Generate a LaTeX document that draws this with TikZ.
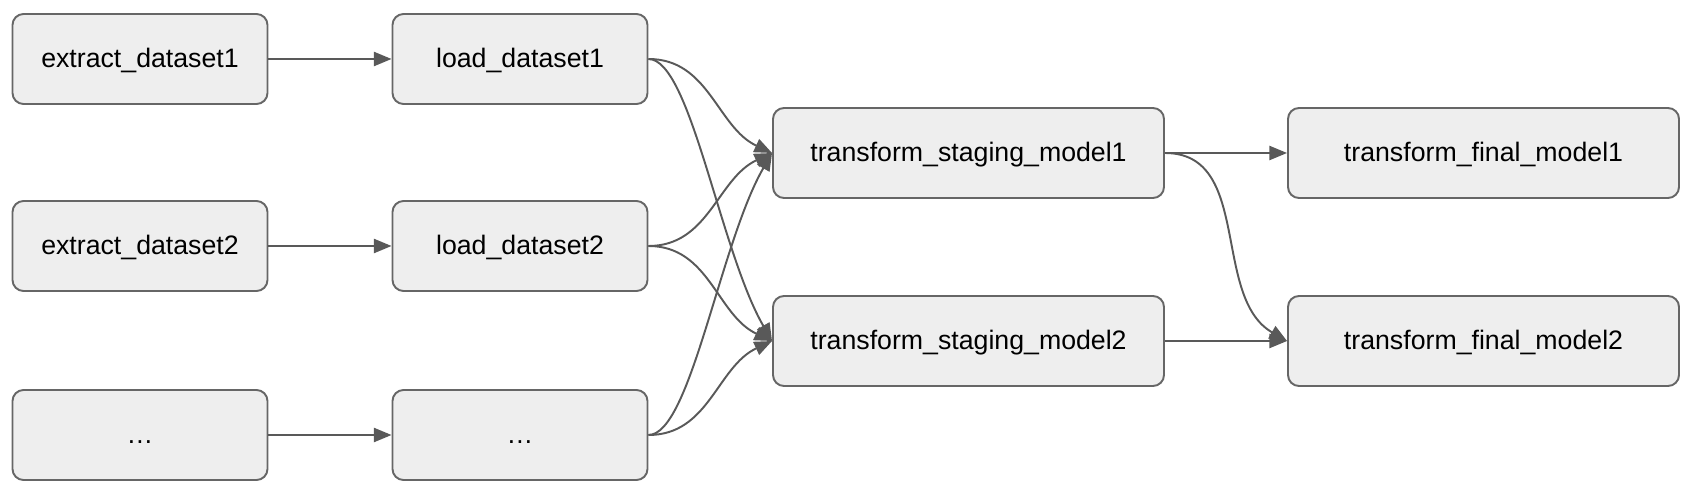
\documentclass[tikz,border=0pt]{standalone}
\usepackage{fontspec}
\setmainfont{Liberation Sans}
\usetikzlibrary{arrows.meta}
\definecolor{boxfill}{HTML}{EEEEEE}
\definecolor{boxline}{HTML}{666666}
\definecolor{edgeline}{HTML}{595959}
\tikzset{
    task/.style={draw=boxline,fill=boxfill,rounded corners=0.22cm,line width=1.1pt,
        minimum height=1.8cm,inner sep=0pt,text height=13.4pt,text depth=3.2pt,
        font=\fontsize{15.2}{18}\selectfont},
    short task/.style={task,minimum width=5.1cm},
    long task/.style={task,minimum width=7.82cm},
    flow/.style={draw=edgeline,line width=1.1pt,-{Triangle[length=10pt,width=8pt]}},
    long down/.style={out=0,in=120,out looseness=0.35,in looseness=0.87},
    long up/.style={out=0,in=240,out looseness=0.35,in looseness=0.87},
}
\begin{document}
\begin{tikzpicture}
\useasboundingbox (0,0) rectangle (33.8,-9.88);
% extract / load
\node[short task] (ext1) at (2.80,-1.18) {extract\_dataset1};
\node[short task] (ext2) at (2.80,-4.92) {extract\_dataset2};
\node[short task] (ext3) at (2.80,-8.70) {…};
\node[short task] (load1) at (10.40,-1.18) {load\_dataset1};
\node[short task] (load2) at (10.40,-4.92) {load\_dataset2};
\node[short task] (load3) at (10.40,-8.70) {…};
% transform
\node[long task] (stage1) at (19.37,-3.06) {transform\_staging\_model1};
\node[long task] (stage2) at (19.37,-6.82) {transform\_staging\_model2};
\node[long task] (final1) at (29.67,-3.06) {transform\_final\_model1};
\node[long task] (final2) at (29.67,-6.82) {transform\_final\_model2};
\draw[flow] (ext1) -- (load1);
\draw[flow] (ext2) -- (load2);
\draw[flow] (ext3) -- (load3);
\draw[flow] (load1.east) to[out=0,in=155] (stage1.west);
\draw[flow] (load1.east) to[long down] (stage2.west);
\draw[flow] (load2.east) to[out=0,in=205] (stage1.west);
\draw[flow] (load2.east) to[out=0,in=155] (stage2.west);
\draw[flow] (load3.east) to[long up] (stage1.west);
\draw[flow] (load3.east) to[out=0,in=205] (stage2.west);
\draw[flow] (stage1) -- (final1);
\draw[flow] (stage2) -- (final2);
\draw[flow] (stage1.east) to[out=0,in=150] (final2.west);
\end{tikzpicture}
\end{document}
